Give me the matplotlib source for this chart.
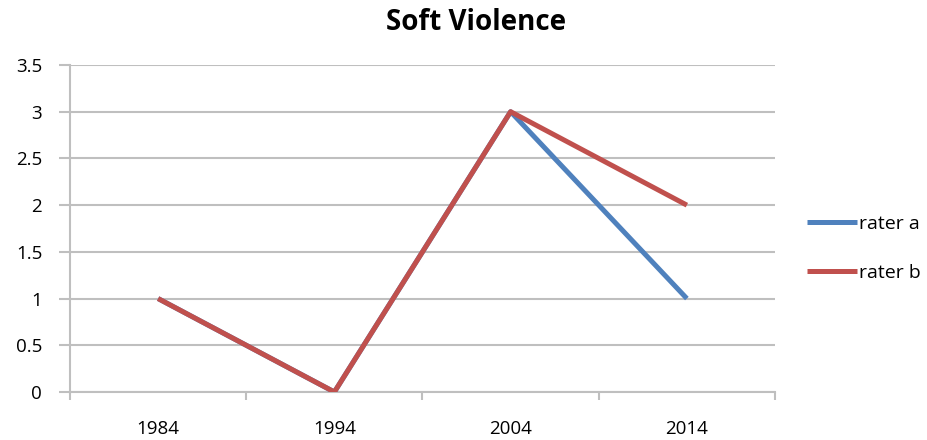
import matplotlib
matplotlib.use('Agg')
import matplotlib.pyplot as plt
import numpy as np

years = ['1984', '1994', '2004', '2014']
rater_a = [1, 0, 3, 1]
rater_b = [1, 0, 3, 2]
yticks = [0, 0.5, 1, 1.5, 2, 2.5, 3, 3.5]

plt.rcParams['font.family'] = ['Open Sans', 'DejaVu Sans']

fig = plt.figure(figsize=(9.28, 4.4), dpi=100)
ax = fig.add_axes([70 / 928, 1 - 392 / 440, 705 / 928, 327 / 440])

x = np.arange(len(years))
ax.plot(x, rater_a, color='#4F81BD', lw=3.6, label='rater a', solid_capstyle='butt', zorder=3)
ax.plot(x, rater_b, color='#C0504D', lw=3.6, label='rater b', solid_capstyle='butt', zorder=4)

ax.set_xlim(-0.5, len(years) - 0.5)
ax.set_ylim(0, 3.5)
ax.set_yticks(yticks)
ax.set_yticklabels(['0', '0.5', '1', '1.5', '2', '2.5', '3', '3.5'])
ax.set_xticks(x)
ax.set_xticklabels(years)
ax.set_xticks(np.arange(-0.5, len(years), 1), minor=True)
ax.tick_params(axis='x', which='major', length=0, pad=20, labelsize=13.5)
ax.tick_params(axis='x', which='minor', length=6, width=1.5, color='#BFBFBF', direction='out')
ax.tick_params(axis='y', length=8, width=1.5, color='#BFBFBF', pad=12, labelsize=13.5)

ax.grid(axis='y', color='#BFBFBF', lw=1.5, zorder=0)
for s in ['top', 'right']:
    ax.spines[s].set_visible(False)
for s in ['left', 'bottom']:
    ax.spines[s].set_color('#BFBFBF')
    ax.spines[s].set_linewidth(1.5)

# title sits centred on the whole chart area, not the plot area
fig.text(476 / 928, 1 - 23 / 440, 'Soft Violence', fontsize=20, fontweight='bold',
         ha='center', va='center')

ax.legend(loc='center left', bbox_to_anchor=(1.02, 0.44), frameon=False, fontsize=14,
          handlelength=2.6, handletextpad=0.1, labelspacing=1.6)

fig.savefig('out.png', dpi=100)
